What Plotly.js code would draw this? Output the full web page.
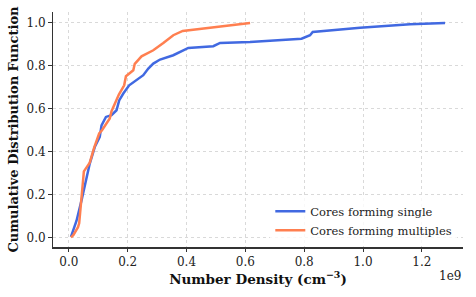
<!DOCTYPE html>
<html>
<head>
<meta charset="utf-8">
<script src="https://cdn.plot.ly/plotly-3.0.1.min.js"></script>
<style>html,body{margin:0;padding:0;background:#fff;}#chart{width:476px;height:297px;}</style>
</head>
<body>
<div id="chart"></div>
<script>
// Number density in units of 1e9 cm^-3
const singleX = [0.007, 0.026, 0.043, 0.058, 0.071, 0.088, 0.105, 0.111, 0.126, 0.145, 0.162, 0.171, 0.185, 0.205, 0.230, 0.253, 0.270, 0.287, 0.310, 0.355, 0.389, 0.406, 0.491, 0.514, 0.616, 0.650, 0.791, 0.820, 0.829, 0.990, 1.160, 1.279];
const singleY = [0.005, 0.080, 0.175, 0.260, 0.346, 0.423, 0.470, 0.524, 0.563, 0.571, 0.594, 0.640, 0.672, 0.710, 0.733, 0.757, 0.788, 0.811, 0.830, 0.850, 0.873, 0.884, 0.892, 0.907, 0.912, 0.915, 0.927, 0.943, 0.958, 0.978, 0.994, 1.000];
const multiX = [0.007, 0.015, 0.031, 0.035, 0.051, 0.071, 0.086, 0.103, 0.112, 0.126, 0.139, 0.145, 0.170, 0.188, 0.194, 0.219, 0.224, 0.247, 0.276, 0.287, 0.321, 0.355, 0.387, 0.502, 0.616];
const multiY = [0.003, 0.013, 0.050, 0.068, 0.310, 0.350, 0.420, 0.486, 0.500, 0.530, 0.556, 0.590, 0.667, 0.710, 0.752, 0.780, 0.810, 0.845, 0.865, 0.873, 0.907, 0.943, 0.963, 0.981, 1.000];
const seriesNames = ["Cores forming single", "Cores forming multiples"];
const xTicks = [0.0, 0.2, 0.4, 0.6, 0.8, 1.0, 1.2];
const yTicks = [0.0, 0.2, 0.4, 0.6, 0.8, 1.0];

const serif = "DejaVu Serif, serif";
const traces = [
  {x: singleX, y: singleY, name: seriesNames[0], mode: "lines", line: {color: "#4169e1", width: 2.5}},
  {x: multiX, y: multiY, name: seriesNames[1], mode: "lines", line: {color: "#ff7f50", width: 2.5}}
];
const axisCommon = {
  showgrid: true, gridcolor: "#d9d9d9", griddash: "dot", gridwidth: 1,
  zeroline: false, showline: true, linecolor: "#333", linewidth: 1.5,
  ticks: "outside", ticklen: 3.5, tickwidth: 1, tickcolor: "#333",
  tickfont: {family: serif, size: 12, color: "#222"}, tickformat: ".1f"
};
const layout = {
  width: 476, height: 297,
  margin: {l: 53, r: 13, t: 12, b: 50},
  paper_bgcolor: "#fff", plot_bgcolor: "#fff",
  showlegend: true,
  legend: {x: 0.53, y: 0.01, xanchor: "left", yanchor: "bottom", bgcolor: "rgba(255,255,255,0.8)",
           font: {family: serif, size: 11.5, color: "#222"}, tracegroupgap: 0},
  xaxis: Object.assign({}, axisCommon, {
    range: [-0.054, 1.34], tickvals: xTicks,
    title: {text: "Number Density (cm<sup>−3</sup>)", font: {family: serif, size: 13.5, color: "#111", weight: "bold"}, standoff: 5}
  }),
  yaxis: Object.assign({}, axisCommon, {
    range: [-0.042, 1.051], tickvals: yTicks,
    title: {text: "Cumulative Distribution Function", font: {family: serif, size: 13, color: "#111", weight: "bold"}, standoff: 5}
  }),
  annotations: [{text: "1e9", xref: "paper", yref: "paper", x: 1.0, y: -0.085, xanchor: "right", yanchor: "top",
                 showarrow: false, font: {family: serif, size: 12, color: "#222"}}]
};
Plotly.newPlot("chart", traces, layout, {staticPlot: true, displayModeBar: false});
</script>
</body>
</html>
